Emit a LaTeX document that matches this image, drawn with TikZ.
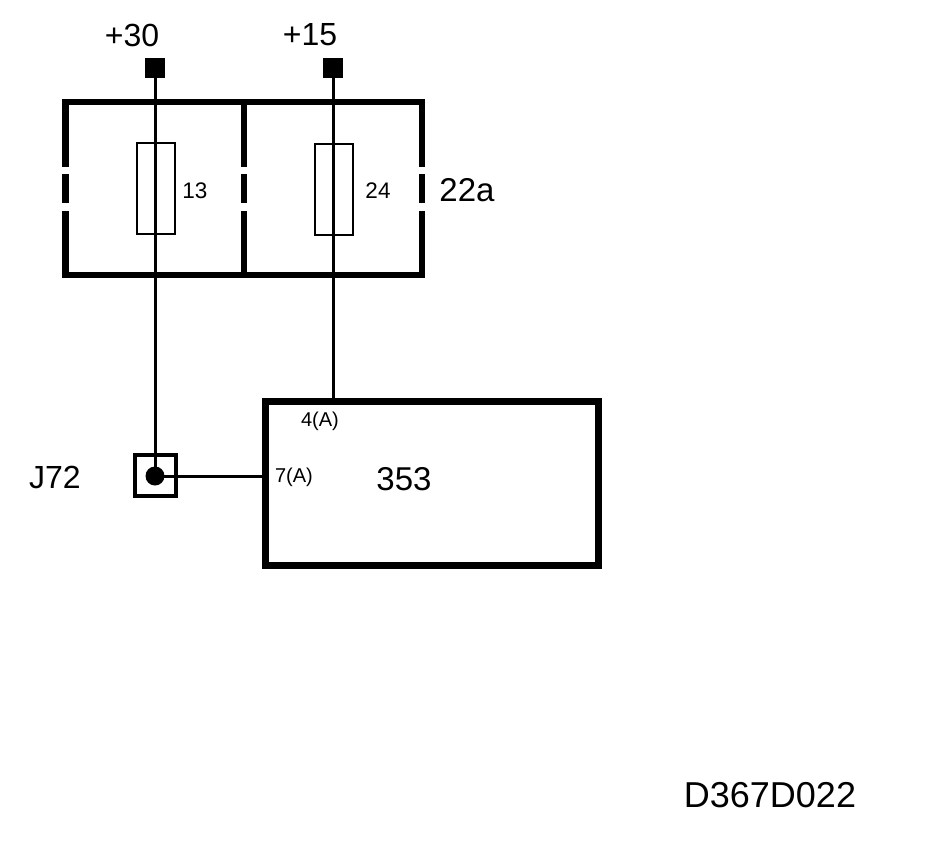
\documentclass[tikz,border=0pt]{standalone}
\usepackage{fontspec}
\setmainfont{Liberation Sans}
\begin{document}
\begin{tikzpicture}[x=1pt,y=-1pt,
  wire/.style={line width=3pt},
  boxline/.style={line width=6.5pt},
  term/.style={draw=none,fill=black,minimum size=20pt,inner sep=0,outer sep=0},
  fuse/.style={draw,line width=2pt,minimum width=38pt,minimum height=91pt,inner sep=0,outer sep=0},
  big/.style={inner sep=0,font=\fontsize{32}{36}\selectfont},
  mid/.style={inner sep=0,font=\fontsize{22.5}{26}\selectfont},
  small/.style={inner sep=0,font=\fontsize{20}{22}\selectfont}]
\fill[white] (0,0) rectangle (928,854);
\useasboundingbox (0,0) rectangle (928,854);
% terminals
\node[term] (t30) at (155,68) {};
\node[term] (t15) at (333,68) {};
\node[big] (l30) at (132,35) {+30};
\node[big] (l15) at (310,35) {+15};
% fuse box 22a
\draw[boxline] (62.25,102) -- (425.25,102);
\draw[boxline] (62.25,275) -- (425.25,275);
\foreach \x in {65.5,244,422}{
  \draw[boxline] (\x,102) -- (\x,167) (\x,174) -- (\x,203) (\x,211) -- (\x,275);
}
\node[big,font=\fontsize{33}{36}\selectfont] (l22a) at (467,190) {22a};
% fuses
\node[fuse] (f13) at (156,188.5) {};
\node[fuse] (f24) at (333.5,189) {};
\node[mid] (l13) at (195,191) {13};
\node[mid] (l24) at (378,191) {24};
% control unit 353
\node[draw,line width=7pt,minimum width=333pt,minimum height=164pt,inner sep=0,outer sep=0] (ecu) at (431.5,483) {};
\node[big,font=\fontsize{33}{36}\selectfont] (l353) at (404,479) {353};
\node[small] (p4) at (320,421) {4(A)};
\node[small] (p7) at (294,477) {7(A)};
% J72
\node[draw,line width=4pt,minimum size=41pt,inner sep=0,outer sep=0] (j72) at (155.5,475) {};
\node[circle,fill=black,minimum size=19pt,inner sep=0,outer sep=0] (jdot) at (155,476) {};
\node[big] (lj72) at (55,477) {J72};
% wires
\draw[wire] (t30.center) -- (jdot.center);
\draw[wire] (t15.center) -- (t15.center |- ecu.north);
\draw[wire] (jdot.center) -- (jdot.center -| ecu.west);
% drawing number
\node[big,font=\fontsize{36}{40}\selectfont] (dno) at (770,795) {D367D022};
\end{tikzpicture}
\end{document}
